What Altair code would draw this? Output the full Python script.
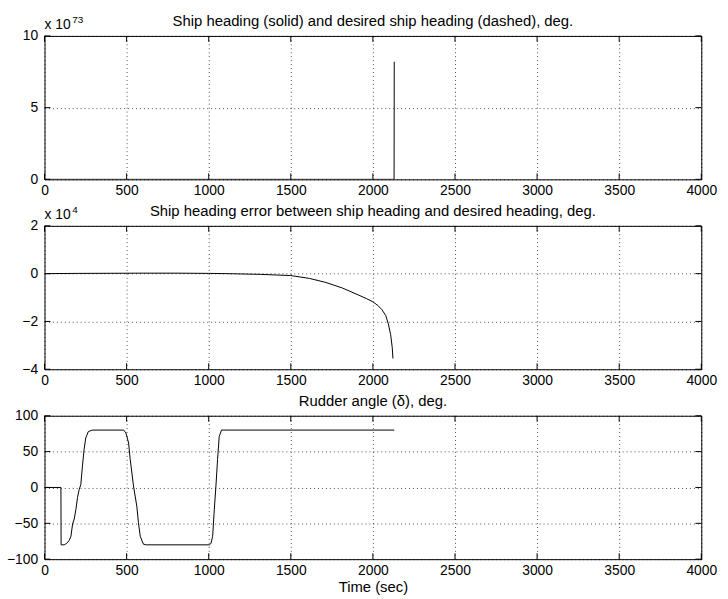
import altair as alt
import pandas as pd

FONT = "Liberation Sans"

# ---------------- data ----------------
# Panel 1: ship heading (units of 1e73 deg)
heading_t = [0, 500, 1000, 1500, 2000, 2129, 2130]
heading_v = [0, 0, 0, 0, 0, 0, 8.2]

# Panel 2: heading error (units of 1e4 deg)
err_t = [0, 200, 400, 600, 800, 1000, 1114, 1314, 1500, 1614, 1714, 1814, 1914,
         1960, 2000, 2030, 2054, 2078, 2094, 2108, 2118, 2122]
err_v = [0, 0.01, 0.015, 0.02, 0.02, 0.01, 0.0, -0.03, -0.08, -0.2, -0.37, -0.6,
         -0.9, -1.04, -1.18, -1.33, -1.5, -1.75, -2.1, -2.55, -3.1, -3.55]

# Panel 3: rudder angle (deg)
rud_t = [0, 100, 101, 120, 135, 150, 161, 171, 181, 191, 201, 211, 221, 231, 241,
         251, 267, 291, 482, 496, 512, 522, 542, 562, 572, 583, 602, 620, 1004,
         1014, 1024, 1034, 1044, 1054, 1064, 1078, 2130]
rud_v = [0, 0, -80, -80, -78, -74, -68, -51, -44, -31, -14, -3, 4, 30, 53,
         69, 78, 80, 80, 76, 62, 39, 2, -26, -49, -68, -79, -80, -80,
         -78, -68, -31, 2, 39, 71, 80, 80]

x_ticks = [0, 500, 1000, 1500, 2000, 2500, 3000, 3500, 4000]
y1_ticks = [0, 5, 10]
y2_ticks = [-4, -2, 0, 2]
y3_ticks = [-100, -50, 0, 50, 100]

titles = [
    "Ship heading (solid) and desired ship heading (dashed), deg.",
    "Ship heading error between ship heading and desired heading, deg.",
    "Rudder angle (\u03b4), deg.",
]

W = 664
H = 145


def panel(t, v, yticks, title, exponent=None, xtitle=None):
    df = pd.DataFrame({"t": t, "v": v, "i": list(range(len(t)))})
    ydom = [yticks[0], yticks[-1]]
    common = dict(grid=True, ticks=False, domain=False, labelFontSize=14,
                  labelFont=FONT, labelColor="black", gridColor="black",
                  gridOpacity=0.7, gridDash=[1, 3], labelFlush=False,
                  labelOverlap=False, labelBound=False, format="d")
    if xtitle:
        xax = alt.Axis(values=x_ticks, labelPadding=4, title=xtitle,
                       titleFont=FONT, titleFontSize=15, titleFontWeight="normal",
                       titleColor="black", titlePadding=3, **common)
    else:
        xax = alt.Axis(values=x_ticks, labelPadding=4, title=None, **common)
    yax = alt.Axis(values=yticks, labelPadding=7, title=None, **common)
    xs = alt.Scale(domain=[0, 4000], nice=False, zero=False)
    ys = alt.Scale(domain=ydom, nice=False, zero=False)

    line = alt.Chart(df).mark_line(color="black", strokeWidth=1, clip=True).encode(
        x=alt.X("t:Q", scale=xs, axis=xax),
        y=alt.Y("v:Q", scale=ys, axis=yax),
        order=alt.Order("i:Q"),
    )
    xt = pd.DataFrame({"t": x_ticks})
    yt = pd.DataFrame({"v": yticks})
    tick_top = alt.Chart(xt).mark_rule(color="black", strokeWidth=1).encode(
        x=alt.X("t:Q", scale=xs, axis=xax), y=alt.value(0), y2=alt.value(6))
    tick_bot = alt.Chart(xt).mark_rule(color="black", strokeWidth=1).encode(
        x=alt.X("t:Q", scale=xs, axis=xax), y=alt.value(H - 6), y2=alt.value(H))
    tick_l = alt.Chart(yt).mark_rule(color="black", strokeWidth=1).encode(
        y=alt.Y("v:Q", scale=ys, axis=yax), x=alt.value(0), x2=alt.value(6))
    tick_r = alt.Chart(yt).mark_rule(color="black", strokeWidth=1).encode(
        y=alt.Y("v:Q", scale=ys, axis=yax), x=alt.value(W - 6), x2=alt.value(W))
    one = pd.DataFrame({"a": [0]})
    title_txt = alt.Chart(one).mark_text(
        align="center", baseline="alphabetic", fontSize=15, font=FONT,
        color="black").encode(x=alt.value(W / 2), y=alt.value(-10),
                              text=alt.value(title))
    op = 1 if exponent else 0
    base_txt = alt.Chart(one).mark_text(
        align="left", baseline="alphabetic", fontSize=14, font=FONT,
        color="black", opacity=op).encode(x=alt.value(0), y=alt.value(-7),
                                          text=alt.value("x 10"))
    exp_txt = alt.Chart(one).mark_text(
        align="left", baseline="alphabetic", fontSize=10, font=FONT,
        color="black", opacity=op).encode(x=alt.value(28), y=alt.value(-13),
                                          text=alt.value(exponent or "0"))
    layers = [line, tick_top, tick_bot, tick_l, tick_r, title_txt, base_txt, exp_txt]
    return alt.layer(*layers).properties(width=W, height=H)


p1 = panel(heading_t, heading_v, y1_ticks, titles[0], exponent="73")
p2 = panel(err_t, err_v, y2_ticks, titles[1], exponent="4")
p3 = panel(rud_t, rud_v, y3_ticks, titles[2], xtitle="Time (sec)")

chart = alt.vconcat(p1, p2, p3, spacing=5).properties(
    padding={"left": 5, "top": 10, "right": 10, "bottom": 5},
    background="white",
).configure_view(stroke="black", strokeWidth=1)

chart.save("out.html", embed_options={"renderer": "svg", "actions": False})
